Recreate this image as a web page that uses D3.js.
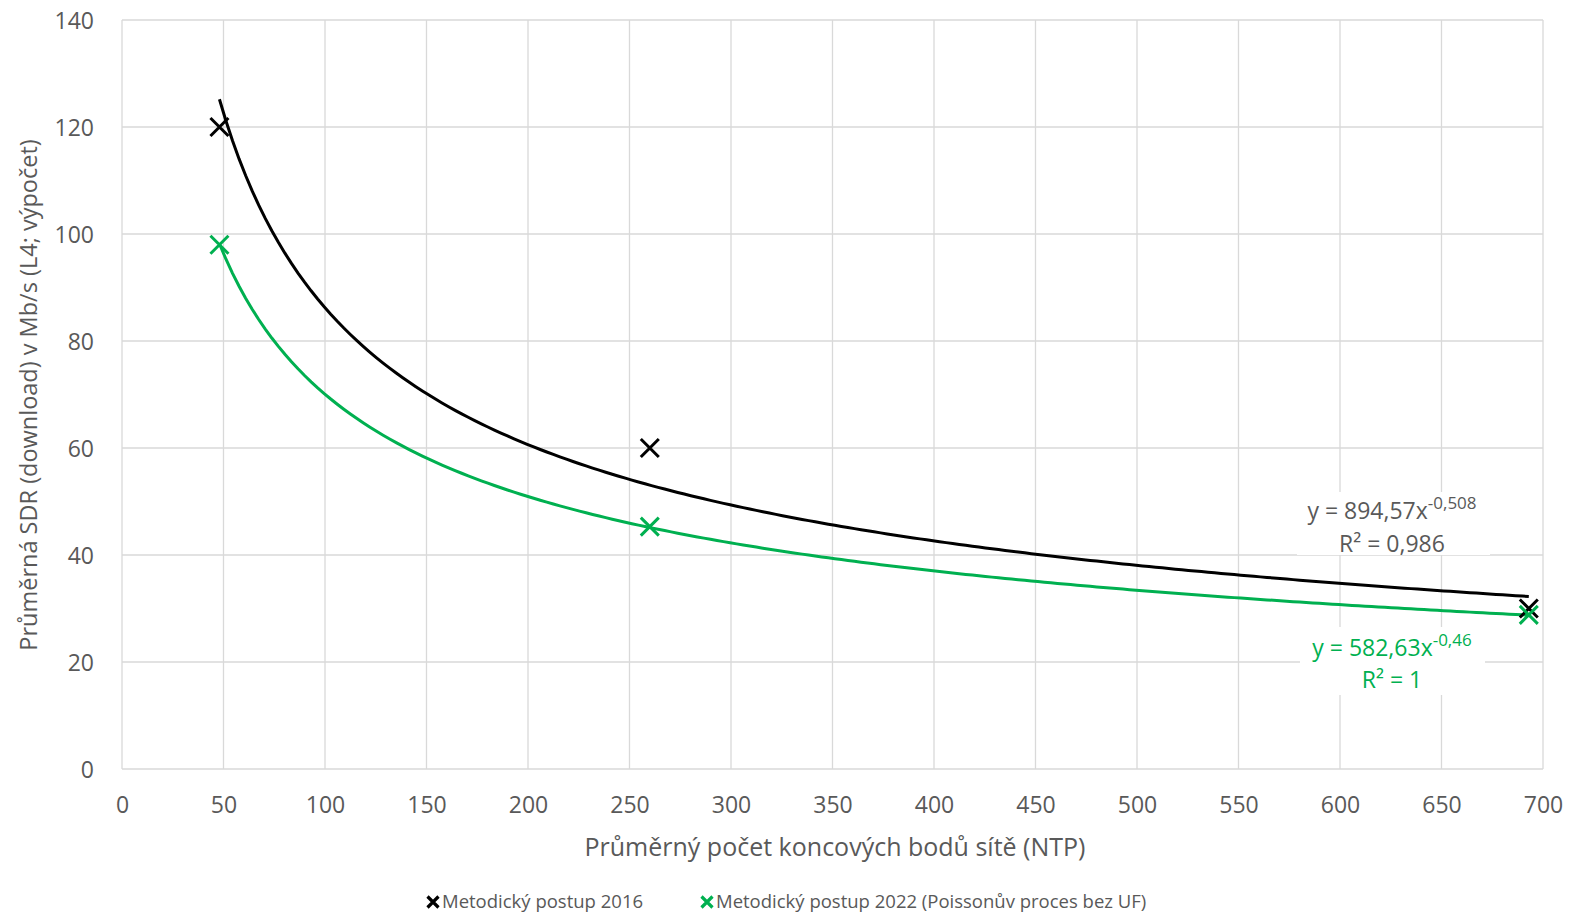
<!DOCTYPE html>
<html><head><meta charset="utf-8">
<script src="https://cdn.jsdelivr.net/npm/d3@7"></script>
<style>
body{margin:0;background:#fff;}
text{font-family:"Open Sans",sans-serif;}
</style></head>
<body>
<svg id="c" width="1585" height="913"></svg>
<script>
// Data
const seriesNames = ["Metodický postup 2016", "Metodický postup 2022 (Poissonův proces bez UF)"];
const seriesColors = ["#000000", "#00b050"];
const xValues2016 = [48, 260, 693];
const yValues2016 = [120, 60, 30];
const xValues2022 = [48, 260, 693];
const yValues2022 = [98, 45.3, 28.8];
// Trendline (power) coefficients as shown on chart
const trendA = [894.57, 582.63];
const trendB = [-0.508, -0.46];
const trendEqText = [["y = 894,57x", "-0,508", "R² = 0,986"], ["y = 582,63x", "-0,46", "R² = 1"]];
const xTicks = [0,50,100,150,200,250,300,350,400,450,500,550,600,650,700];
const yTicks = [0,20,40,60,80,100,120,140];
const xTitle = "Průměrný počet koncových bodů sítě (NTP)";
const yTitle = "Průměrná SDR (download) v Mb/s (L4; výpočet)";

const svg = d3.select("#c");
const L = 122, R = 1543, T = 20, B = 769;
const x = d3.scaleLinear().domain([0,700]).range([L,R]);
const y = d3.scaleLinear().domain([0,140]).range([B,T]);
const grid = "#d9d9d9", txt = "#595959";

// gridlines
svg.append("g").selectAll("line").data(xTicks).join("line")
  .attr("x1",d=>x(d)).attr("x2",d=>x(d)).attr("y1",T).attr("y2",B)
  .attr("stroke",grid).attr("stroke-width",1.3);
svg.append("g").selectAll("line").data(yTicks).join("line")
  .attr("x1",L).attr("x2",R).attr("y1",d=>y(d)).attr("y2",d=>y(d))
  .attr("stroke",grid).attr("stroke-width",1.3);

// axes labels
const xa = svg.append("g").attr("transform",`translate(0,${B})`)
  .call(d3.axisBottom(x).tickValues(xTicks).tickSize(0).tickPadding(0));
xa.select(".domain").remove();
xa.selectAll("text").attr("dy",null).attr("y",44).attr("fill",txt).attr("font-size",23).attr("font-family","Open Sans");
const ya = svg.append("g").attr("transform",`translate(${L},0)`)
  .call(d3.axisLeft(y).tickValues(yTicks).tickSize(0).tickPadding(0));
ya.select(".domain").remove();
ya.selectAll("text").attr("x",-28).attr("dy","0.36em").attr("fill",txt).attr("font-size",23).attr("font-family","Open Sans");

// trendlines
const xs = [xValues2016, xValues2022];
const ys = [yValues2016, yValues2022];
[0,1].forEach(i=>{
  const x0 = d3.min(xs[i]), x1 = d3.max(xs[i]);
  const pts = d3.range(0,201).map(k=>{const xv = x0 + (x1-x0)*k/200; return [xv, trendA[i]*Math.pow(xv,trendB[i])];});
  svg.append("path").datum(pts)
    .attr("d", d3.line().x(d=>x(d[0])).y(d=>y(d[1])))
    .attr("fill","none").attr("stroke",seriesColors[i]).attr("stroke-width",3);
});

// markers
function cross(g, cx, cy, s, color, w){
  g.append("path").attr("d",`M${cx-s},${cy-s}L${cx+s},${cy+s}M${cx-s},${cy+s}L${cx+s},${cy-s}`)
   .attr("stroke",color).attr("stroke-width",w).attr("fill","none");
}
[0,1].forEach(i=>{
  const g = svg.append("g");
  xs[i].forEach((xv,j)=>cross(g, x(xv), y(ys[i][j]), 9, seriesColors[i], 3));
});

// trend labels
const lab = [{cx:1392, y1:519, y2:552, col:txt, box:[1297,492,193,63]},
             {cx:1392, y1:656, y2:688, col:"#00b050", box:[1300,627,185,68]}];
lab.forEach((p,i)=>{
  svg.append("rect").attr("x",p.box[0]).attr("y",p.box[1]).attr("width",p.box[2]).attr("height",p.box[3]).attr("fill","#fff");
  const t1 = svg.append("text").attr("x",p.cx).attr("y",p.y1).attr("text-anchor","middle")
    .attr("fill",p.col).attr("font-size",23);
  t1.append("tspan").text(trendEqText[i][0]);
  t1.append("tspan").attr("dy",-10).attr("font-size",17).text(trendEqText[i][1]);
  svg.append("text").attr("x",p.cx).attr("y",p.y2).attr("text-anchor","middle")
    .attr("fill",p.col).attr("font-size",23).text(trendEqText[i][2]);
});

// axis titles
svg.append("text").attr("x",835).attr("y",856).attr("text-anchor","middle")
  .attr("fill",txt).attr("font-size",25).text(xTitle);
svg.append("text").attr("transform",`translate(37,${395}) rotate(-90)`).attr("text-anchor","middle")
  .attr("fill",txt).attr("font-size",23.5).text(yTitle);

// legend
const legX = [433, 707];
seriesNames.forEach((n,i)=>{
  const g = svg.append("g");
  cross(g, legX[i], 902, 5.5, seriesColors[i], 3.2);
  g.append("text").attr("x",legX[i]+9).attr("y",908).attr("fill",txt).attr("font-size",18.5).text(n);
});
</script>
</body></html>
